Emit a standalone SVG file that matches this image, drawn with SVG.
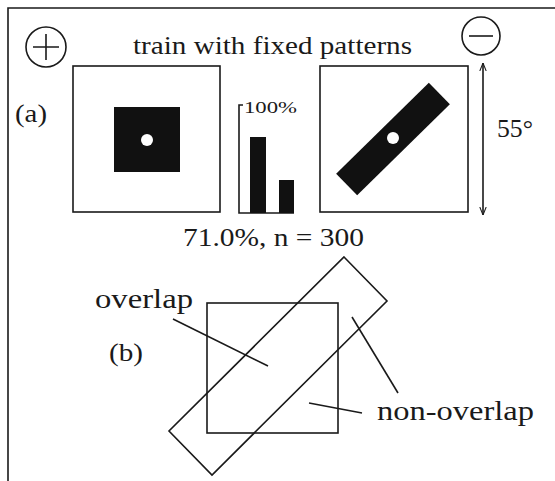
<svg xmlns="http://www.w3.org/2000/svg" width="555" height="481" viewBox="0 0 555 481">
<defs>
<style>
text{font-family:"Liberation Serif","Times New Roman",serif;fill:#1a1a1a}
.ln{fill:none;stroke:#1a1a1a;stroke-width:1.6}
.blk{fill:#111}
.dot{fill:#fff}
</style>
<marker id="ah" viewBox="0 0 10 10" refX="10" refY="5" markerWidth="8" markerHeight="8" orient="auto-start-reverse" markerUnits="userSpaceOnUse">
<path d="M0,1 L10,5 L0,9" fill="none" stroke="#1a1a1a" stroke-width="1.3"/>
</marker>
</defs>
<rect width="555" height="481" fill="#fff"/>
<path class="ln" d="M8,481 V8 H555" stroke-width="2"/>
<g id="plus">
<circle class="ln" cx="46" cy="47" r="20"/>
<path class="ln" d="M33,47 H59 M46,34 V60"/>
</g>
<text x="133" y="54" font-size="26" textLength="279" lengthAdjust="spacingAndGlyphs">train with fixed patterns</text>
<g id="minus">
<circle class="ln" cx="481" cy="36" r="19"/>
<path class="ln" d="M469,36 H493"/>
</g>
<text x="15" y="122" font-size="26" textLength="32" lengthAdjust="spacingAndGlyphs">(a)</text>
<g id="left-pattern">
<rect class="ln" x="73" y="66" width="147" height="146"/>
<rect class="blk" x="114" y="107" width="66" height="65"/>
<circle class="dot" cx="147" cy="140" r="6"/>
</g>
<g id="bar-chart">
<path class="ln" d="M243,105 H239 V213 H294"/>
<rect class="blk" x="250" y="137" width="16" height="76"/>
<rect class="blk" x="279" y="180" width="15" height="33"/>
<text x="244" y="113" font-size="16" textLength="53" lengthAdjust="spacingAndGlyphs">100%</text>
</g>
<g id="right-pattern">
<rect class="ln" x="320" y="66" width="148" height="146"/>
<rect class="blk" x="328" y="124" width="130" height="30" transform="rotate(-44.5 393 139)"/>
<circle class="dot" cx="393" cy="138" r="6"/>
</g>
<g id="connectors">
<line class="ln" x1="483" y1="63" x2="483" y2="215" stroke-width="1.3" marker-start="url(#ah)" marker-end="url(#ah)"/>
<line class="ln" x1="173" y1="319" x2="268" y2="366"/>
<line class="ln" x1="352" y1="317" x2="398" y2="393"/>
<line class="ln" x1="309" y1="403" x2="362" y2="413"/>
</g>
<text x="497" y="137" font-size="26" textLength="36" lengthAdjust="spacingAndGlyphs">55°</text>
<text x="183" y="246" font-size="26" textLength="181" lengthAdjust="spacingAndGlyphs">71.0%, n = 300</text>
<g id="overlap-figure">
<rect class="ln" x="207" y="303" width="131" height="130"/>
<path class="ln" d="M344,257 L387,301 L212,475 L169,431 Z"/>
</g>
<text x="95" y="308" font-size="27" textLength="98" lengthAdjust="spacingAndGlyphs">overlap</text>
<text x="109" y="361" font-size="26" textLength="34" lengthAdjust="spacingAndGlyphs">(b)</text>
<text x="377" y="420" font-size="27" textLength="157" lengthAdjust="spacingAndGlyphs">non-overlap</text>
</svg>
